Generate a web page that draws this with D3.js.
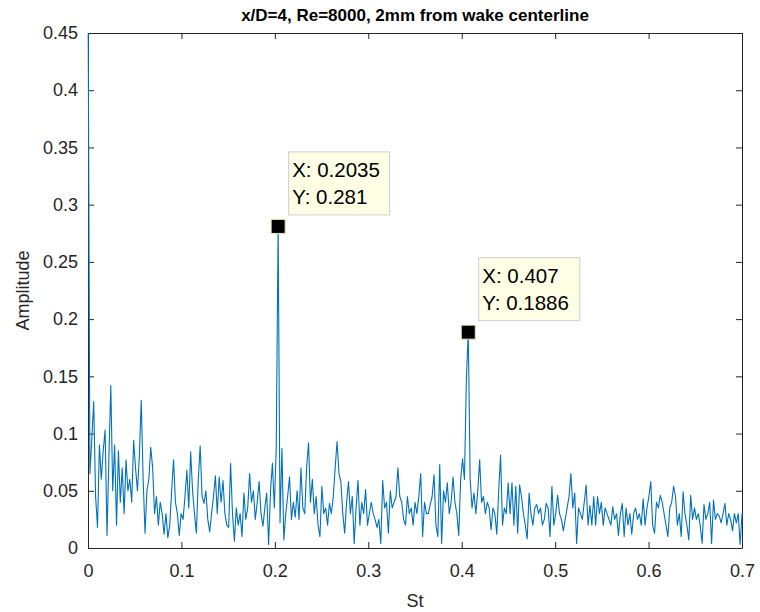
<!DOCTYPE html>
<html>
<head>
<meta charset="utf-8">
<script src="https://cdn.jsdelivr.net/npm/d3@7"></script>
<style>
html,body{margin:0;padding:0;background:#fff;}
svg{display:block;font-family:"Liberation Sans",Arial,Helvetica,sans-serif;}
</style>
</head>
<body>
<svg id="chart" width="760" height="612"></svg>
<script>
// ---- data ----
const titleText = "x/D=4, Re=8000, 2mm from wake centerline";
const xLabel = "St";
const yLabel = "Amplitude";
const stStep = 0.002035;           // frequency resolution of the spectrum (St)
const amplitude = [
 0.5, 0.065, 0.095, 0.128, 0.045, 0.018, 0.09, 0.06, 0.085, 0.103,
 0.011, 0.08, 0.142, 0.05, 0.09, 0.02, 0.085, 0.04, 0.07, 0.03,
 0.077, 0.05, 0.06, 0.04, 0.094, 0.07, 0.05, 0.08, 0.129, 0.06,
 0.013, 0.05, 0.06, 0.088, 0.07, 0.03, 0.045, 0.02, 0.04, 0.03,
 0.012, 0.03, 0.009, 0.02, 0.05, 0.077, 0.04, 0.03, 0.011, 0.03,
 0.025, 0.045, 0.068, 0.035, 0.084, 0.05, 0.03, 0.013, 0.06, 0.089,
 0.045, 0.039, 0.05, 0.025, 0.014, 0.03, 0.045, 0.063, 0.03, 0.062,
 0.04, 0.059, 0.03, 0.02, 0.018, 0.074, 0.03, 0.006, 0.035, 0.02,
 0.03, 0.01, 0.048, 0.025, 0.035, 0.065, 0.04, 0.05, 0.025, 0.04,
 0.058, 0.03, 0.019, 0.035, 0.048, 0.003, 0.05, 0.074, 0.035, 0.087,
 0.281, 0.022, 0.087, 0.007, 0.03, 0.045, 0.062, 0.025, 0.04, 0.027,
 0.05, 0.025, 0.07, 0.035, 0.03, 0.071, 0.092, 0.04, 0.06, 0.03,
 0.045, 0.02, 0.01, 0.054, 0.03, 0.035, 0.02, 0.039, 0.03, 0.045,
 0.07, 0.093, 0.065, 0.058, 0.03, 0.013, 0.04, 0.058, 0.03, 0.045,
 0.004, 0.035, 0.059, 0.02, 0.04, 0.03, 0.051, 0.02, 0.03, 0.04,
 0.03, 0.025, 0.018, 0.025, 0.004, 0.059, 0.035, 0.04, 0.013, 0.05,
 0.035, 0.04, 0.045, 0.07, 0.045, 0.04, 0.025, 0.02, 0.045, 0.03,
 0.035, 0.02, 0.04, 0.03, 0.045, 0.065, 0.01, 0.04, 0.03, 0.03,
 0.038, 0.045, 0.064, 0.02, 0.01, 0.073, 0.004, 0.05, 0.04, 0.057,
 0.03, 0.04, 0.062, 0.04, 0.03, 0.011, 0.06, 0.078, 0.06, 0.147,
 0.1886, 0.06, 0.035, 0.048, 0.03, 0.05, 0.077, 0.04, 0.045, 0.03,
 0.04, 0.035, 0.016, 0.035, 0.03, 0.012, 0.05, 0.081, 0.02, 0.035,
 0.03, 0.057, 0.03, 0.057, 0.02, 0.054, 0.013, 0.055, 0.045, 0.03,
 0.02, 0.008, 0.048, 0.03, 0.02, 0.035, 0.038, 0.03, 0.035, 0.02,
 0.025, 0.039, 0.035, 0.01, 0.054, 0.02, 0.03, 0.046, 0.03, 0.025,
 0.015, 0.025, 0.035, 0.045, 0.065, 0.035, 0.048, 0.004, 0.035, 0.03,
 0.025, 0.04, 0.055, 0.02, 0.037, 0.02, 0.045, 0.02, 0.045, 0.03,
 0.04, 0.02, 0.035, 0.03, 0.025, 0.02, 0.036, 0.025, 0.03, 0.011,
 0.03, 0.039, 0.01, 0.035, 0.02, 0.03, 0.012, 0.03, 0.035, 0.025,
 0.03, 0.02, 0.043, 0.02, 0.035, 0.045, 0.058, 0.02, 0.013, 0.04,
 0.035, 0.046, 0.04, 0.03, 0.02, 0.01, 0.035, 0.04, 0.054, 0.045,
 0.02, 0.03, 0.01, 0.049, 0.03, 0.02, 0.007, 0.046, 0.025, 0.035,
 0.025, 0.03, 0.02, 0.004, 0.038, 0.025, 0.03, 0.04, 0.004, 0.042,
 0.025, 0.03, 0.028, 0.022, 0.03, 0.039, 0.02, 0.03, 0.025, 0.015,
 0.03, 0.022, 0.03, 0.003, 0.03
];
const xTicks = [0, 0.1, 0.2, 0.3, 0.4, 0.5, 0.6, 0.7];
const yTicks = [0, 0.05, 0.1, 0.15, 0.2, 0.25, 0.3, 0.35, 0.4, 0.45];
const tipSt = [0.2035, 0.407];
const tipAmp = [0.281, 0.1886];
const tipXText = ["X: 0.2035", "X: 0.407"];
const tipYText = ["Y: 0.281", "Y: 0.1886"];

// ---- layout ----
const svg = d3.select("#chart");
const L = 88, R = 742, T = 33, B = 548;
const ink = "#262626";
const x = d3.scaleLinear().domain([0, 0.7]).range([L, R]);
const y = d3.scaleLinear().domain([0, 0.45]).range([B, T]);

const points = amplitude.map((v, i) => ({st: i * stStep, a: v}));

svg.append("defs").append("clipPath").attr("id", "clip")
  .append("rect").attr("x", L - 1).attr("y", T).attr("width", R - L + 2).attr("height", B - T);

// axes
const fmt = d => d === 0 ? "0" : String(+d.toFixed(2));
const gx = svg.append("g").attr("transform", `translate(0,${B})`)
  .call(d3.axisBottom(x).tickValues(xTicks).tickFormat(fmt).tickSizeInner(-6).tickSizeOuter(0).tickPadding(16));
const gy = svg.append("g").attr("transform", `translate(${L},0)`)
  .call(d3.axisLeft(y).tickValues(yTicks).tickFormat(fmt).tickSizeInner(-6).tickSizeOuter(0).tickPadding(10));
const gxt = svg.append("g").attr("transform", `translate(0,${T})`)
  .call(d3.axisTop(x).tickValues(xTicks).tickFormat("").tickSizeInner(-6).tickSizeOuter(0));
const gyr = svg.append("g").attr("transform", `translate(${R},0)`)
  .call(d3.axisRight(y).tickValues(yTicks).tickFormat("").tickSizeInner(-6).tickSizeOuter(0));
[gx, gy, gxt, gyr].forEach(g => {
  g.select(".domain").attr("stroke", ink).attr("stroke-width", 1);
  g.selectAll(".tick line").attr("stroke", ink).attr("stroke-width", 1);
  g.selectAll(".tick text").attr("fill", ink).attr("font-size", 18)
    .attr("font-family", "'Liberation Sans', Arial, Helvetica, sans-serif");
});

// line (drawn over the axes, as in the reference)
svg.append("path")
  .datum(points)
  .attr("clip-path", "url(#clip)")
  .attr("fill", "none")
  .attr("stroke", "#0072BD")
  .attr("stroke-width", 1.1)
  .attr("stroke-linejoin", "round")
  .attr("d", d3.line().x(d => x(d.st)).y(d => y(d.a)));

// title & labels
svg.append("text").attr("x", (L + R) / 2).attr("y", 21).attr("text-anchor", "middle")
  .attr("font-size", 17).attr("font-weight", "bold").attr("fill", "#000").text(titleText);
svg.append("text").attr("x", (L + R) / 2).attr("y", 607).attr("text-anchor", "middle")
  .attr("font-size", 18).attr("fill", ink).text(xLabel);
svg.append("text").attr("transform", `translate(29,${(T + B) / 2}) rotate(-90)`).attr("text-anchor", "middle")
  .attr("font-size", 18).attr("fill", ink).text(yLabel);

// data tips
tipSt.forEach((s, k) => {
  const px = x(s), py = y(tipAmp[k]);
  const g = svg.append("g");
  g.append("rect").attr("x", px + 10.5).attr("y", py - 74.5).attr("width", 101).attr("height", 63)
    .attr("fill", "#FFFFE6").attr("stroke", "#CFCFCF").attr("stroke-width", 1);
  g.append("text").attr("x", px + 14).attr("y", py - 49).attr("font-size", 20.5).attr("fill", "#000").text(tipXText[k]);
  g.append("text").attr("x", px + 14).attr("y", py - 22).attr("font-size", 20.5).attr("fill", "#000").text(tipYText[k]);
  g.append("rect").attr("x", px - 7).attr("y", py - 7).attr("width", 14).attr("height", 14)
    .attr("fill", "#000").attr("stroke", "#E8E4B0").attr("stroke-width", 1);
});
</script>
</body>
</html>
